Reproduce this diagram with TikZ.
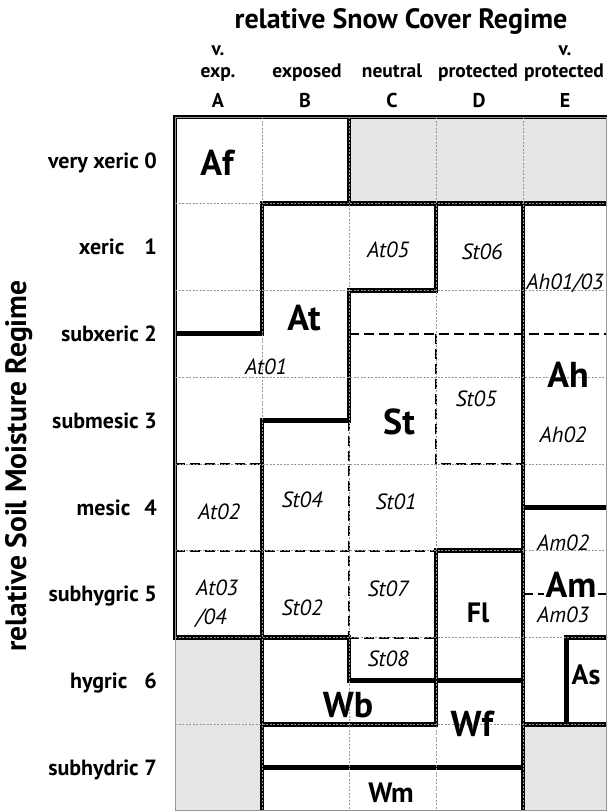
\documentclass[tikz,border=0pt]{standalone}
\usepackage{fontspec}
\setmainfont{PT Sans}
\definecolor{cellgray}{RGB}{229,229,229}
\definecolor{gridgray}{RGB}{150,150,150}
\tikzset{
  thickline/.style={line width=4.8pt, line cap=rect, line join=miter, black},
  dashline/.style={line width=2pt, dash pattern=on 10pt off 5pt, black},
  gridline/.style={line width=0.7pt, dash pattern=on 2pt off 1.5pt, gridgray},
  bigb/.style={font=\bfseries\fontsize{36}{36}\selectfont, inner sep=0pt},
  smallb/.style={font=\bfseries\fontsize{28}{28}\selectfont, inner sep=0pt},
  ital/.style={font=\itshape\fontsize{22}{22}\selectfont, inner sep=0pt},
  rowlab/.style={font=\bfseries\fontsize{22}{22}\selectfont, anchor=base east, inner sep=0pt},
  collab/.style={font=\bfseries\fontsize{19.5}{19.5}\selectfont, anchor=base, inner sep=0pt},
  letlab/.style={font=\bfseries\fontsize{20}{20}\selectfont, anchor=base, inner sep=0pt},
  titlelab/.style={font=\bfseries\fontsize{28}{28}\selectfont, anchor=base, inner sep=0pt},
  ytitlelab/.style={font=\bfseries\fontsize{29.5}{29.5}\selectfont, anchor=base, inner sep=0pt, rotate=90}
}
\begin{document}
\begin{tikzpicture}[x=1pt,y=1pt]
\useasboundingbox (0,0) rectangle (607,-811);
% ---------- grid ----------
\begin{scope}[shift={(175pt,-117pt)}, x=87pt, y=-86.75pt]
  \fill[cellgray] (2,0) rectangle (5,1);
  \fill[cellgray] (0,6) rectangle (1,8);
  \fill[cellgray] (4,7) rectangle (5,8);
  % thick boundaries
  \draw[thickline] (0,6) -- (0,0) -- (5,0);
  \draw[thickline] (2,0) -- (2,1);
  \draw[thickline] (0,2.5) -- (1,2.5) -- (1,1) -- (5,1);
  \draw[thickline] (3,1) -- (3,2) -- (2,2) -- (2,3.5) -- (1,3.5) -- (1,8);
  \draw[thickline] (4,1) -- (4,8);
  \draw[thickline] (0,6) -- (2,6) -- (2,6.5) -- (4,6.5);
  \draw[thickline] (3,5) -- (4,5);
  \draw[thickline] (3,5) -- (3,7);
  \draw[thickline] (1,7) -- (3,7);
  \draw[thickline] (1,7.5) -- (4,7.5);
  \draw[thickline] (4,4.5) -- (5,4.5);
  \draw[thickline] (4,7) -- (5,7);
  \draw[thickline] (5,6) -- (4.5,6) -- (4.5,7);
  % dashed boundaries
  \draw[dashline] (2,2.5) -- (5,2.5);
  \draw[dashline] (3,2.5) -- (3,4) -- (4,4);
  \draw[dashline] (0,4) -- (1,4);
  \draw[dashline] (2,3.5) -- (2,6);
  \draw[dashline] (0,5) -- (3,5);
  \draw[dashline] (2,6) -- (3,6);
  \draw[dashline] (4,5.5) -- (5,5.5);
  % grid
  \foreach \j in {1,2,3,4} \draw[gridline] (\j,0) -- (\j,8);
  \foreach \i in {1,...,7} \draw[gridline] (0,\i) -- (5,\i);
  \draw[gridgray, line width=0.8pt] (0,0) rectangle (4.955,7.99);
\end{scope}
% ---------- headings ----------
\node[titlelab] (title) at (401,-28) {relative Snow Cover Regime};
\node[collab] (vA) at (218,-55) {v.};
\node[collab] (vE) at (565,-55) {v.};
\node[collab] (hA) at (218,-77) {exp.};
\node[collab] (hB) at (307,-77) {exposed};
\node[collab] (hC) at (392,-77) {neutral};
\node[collab] (hD) at (478,-77) {protected};
\node[collab] (hE) at (564,-77) {protected};
\node[letlab] (lA) at (218,-107) {A};
\node[letlab] (lB) at (305,-107) {B};
\node[letlab] (lC) at (392,-107) {C};
\node[letlab] (lD) at (479,-107) {D};
\node[letlab] (lE) at (565,-107) {E};
\node[ytitlelab] (ytitle) at (26,-466) {relative Soil Moisture Regime};
\node[rowlab] (r0) at (157,-168) {very xeric 0};
\node[rowlab] (r1) at (157,-254.5) {xeric\hspace{20pt}1};
\node[rowlab] (r2) at (157,-341.5) {subxeric 2};
\node[rowlab] (r3) at (157,-428) {submesic 3};
\node[rowlab] (r4) at (157,-515) {mesic\hspace{14pt}4};
\node[rowlab] (r5) at (157,-601.5) {subhygric 5};
\node[rowlab] (r6) at (157,-688.5) {hygric\hspace{17pt}6};
\node[rowlab] (r7) at (157,-775) {subhydric 7};
% ---------- cell labels ----------
\node[bigb] (Af) at (217,-163) {Af};
\node[bigb] (At) at (304,-318) {At};
\node[ital] (At01) at (266,-367) {At01};
\node[ital] (At05) at (388,-250) {At05};
\node[ital] (St06) at (482,-252) {St06};
\node[ital] (Ah0103) at (565,-283) {Ah01/03};
\node[ital] (St05) at (476,-399) {St05};
\node[bigb] (St) at (399,-422) {St};
\node[bigb] (Ah) at (568,-375) {Ah};
\node[ital] (Ah02) at (563,-435) {Ah02};
\node[ital] (At02) at (219,-512) {At02};
\node[ital] (St04) at (302,-500) {St04};
\node[ital] (St01) at (396,-502) {St01};
\node[ital] (Am02) at (563,-543) {Am02};
\node[ital, font=\itshape\fontsize{22}{29}\selectfont, align=left, anchor=west] (At0304) at (196,-603.5) {At03\\/04};
\node[ital] (St02) at (302,-608) {St02};
\node[ital] (St07) at (388,-589) {St07};
\node[smallb] (Fl) at (478,-613) {Fl};
\node[bigb, fill=white, inner sep=1.5pt] (Am) at (571,-585) {Am};
\node[ital] (Am03) at (563,-615) {Am03};
\node[ital] (St08) at (388,-659) {St08};
\node[smallb] (As) at (586,-675) {As};
\node[bigb] (Wb) at (348,-705) {Wb};
\node[bigb] (Wf) at (472,-724) {Wf};
\node[smallb] (Wm) at (391,-793) {Wm};
\end{tikzpicture}
\end{document}
